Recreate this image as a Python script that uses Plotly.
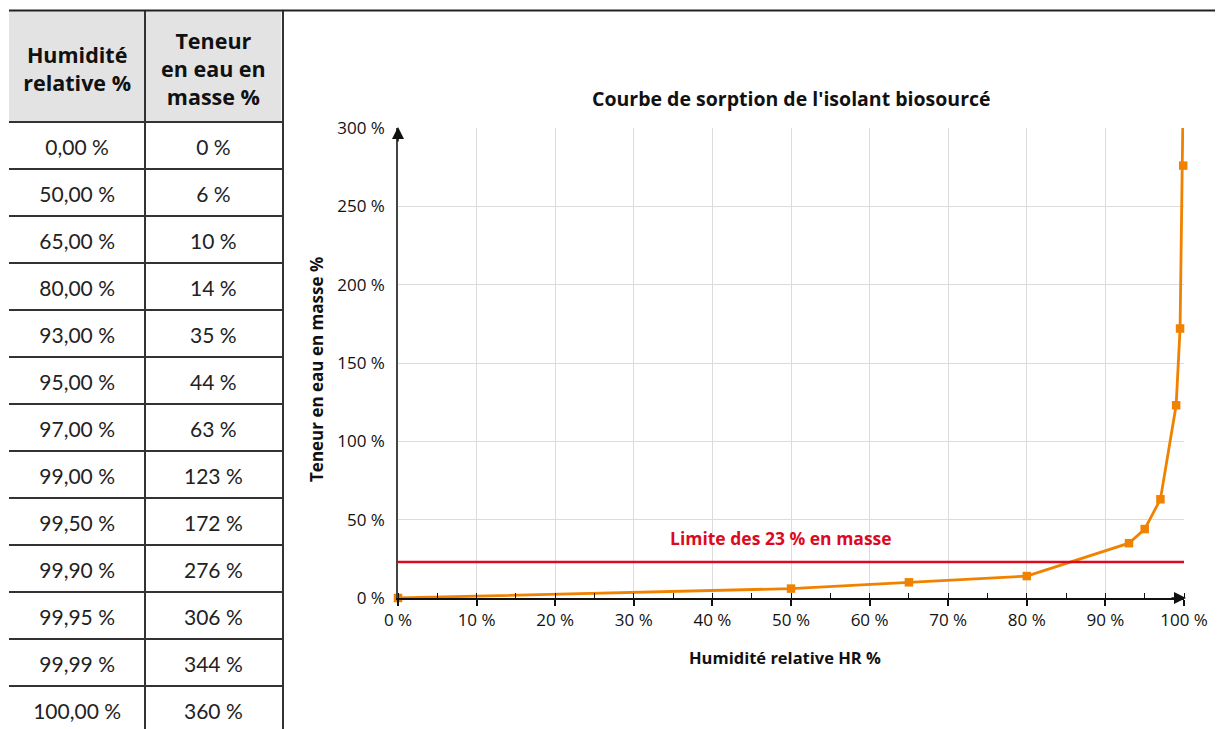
import plotly.graph_objects as go

hr_labels = ["0,00 %", "50,00 %", "65,00 %", "80,00 %", "93,00 %", "95,00 %", "97,00 %",
             "99,00 %", "99,50 %", "99,90 %", "99,95 %", "99,99 %", "100,00 %"]
teneur_labels = ["0 %", "6 %", "10 %", "14 %", "35 %", "44 %", "63 %",
                 "123 %", "172 %", "276 %", "306 %", "344 %", "360 %"]
header_labels = ["Humidité<br>relative %", "Teneur<br>en eau en<br>masse %"]
hr_values = [0, 50, 65, 80, 93, 95, 97, 99, 99.5, 99.9, 99.95, 99.99, 100]
teneur_values = [0, 6, 10, 14, 35, 44, 63, 123, 172, 276, 306, 344, 360]
limit_value = 23
x_ticks = list(range(0, 101, 10))
y_ticks = [0, 50, 100, 150, 200, 250, 300]
y_max = 300

# The page body has an 8px margin: size the figure to fit inside it
OFF = 8
W, H = 1223 - OFF, 729 - OFF
FONT = "Open Sans"
TFONT = "Lato"
ORANGE = "#f08200"
RED = "#dc0a1e"
BORDER = "#333333"

def px_x(p):
    return (p - OFF) / W

def px_y(p):
    return 1 - (p - OFF) / H

# table geometry (in table-axis units = pixels)
COL_W = 137
HEAD_H = 111
ROW_H = 47
T_LEFT, T_TOP = 9, 11
T_WIDTH = 2 * COL_W
T_HEIGHT = 729 - T_TOP

n_rows = len(hr_labels)
row_centers = [HEAD_H + ROW_H * i + ROW_H / 2 + 4 for i in range(n_rows)]
row_bounds = [HEAD_H + ROW_H * i for i in range(n_rows)]
col_centers = [COL_W / 2, COL_W * 1.5]

fig = go.Figure()

# ---- table (drawn on its own axes) ----
fig.add_trace(go.Scatter(
    x=[col_centers[0]] * n_rows + [col_centers[1]] * n_rows,
    y=row_centers + row_centers,
    text=hr_labels + teneur_labels,
    mode="text", textposition="middle center",
    textfont=dict(family=TFONT, size=21, color="#222222"),
    xaxis="x2", yaxis="y2", showlegend=False, hoverinfo="skip", cliponaxis=False,
))
fig.add_trace(go.Scatter(
    x=col_centers, y=[HEAD_H / 2 + 5, HEAD_H / 2 + 5],
    text=[f"<b>{t}</b>" for t in header_labels],
    mode="text", textposition="middle center",
    textfont=dict(family=FONT, size=21.5, color="#111111"),
    xaxis="x2", yaxis="y2", showlegend=False, hoverinfo="skip", cliponaxis=False,
))

# ---- chart ----
fig.add_trace(go.Scatter(
    x=hr_values, y=teneur_values,
    mode="lines",
    line=dict(color=ORANGE, width=2.8),
    showlegend=False, hoverinfo="skip",
))
vis = [(x, y) for x, y in zip(hr_values, teneur_values) if y <= y_max]
fig.add_trace(go.Scatter(
    x=[p[0] for p in vis], y=[p[1] for p in vis],
    mode="markers",
    marker=dict(symbol="square", size=8.5, color=ORANGE),
    cliponaxis=False,
    showlegend=False, hoverinfo="x+y",
))
fig.add_trace(go.Scatter(
    x=[0, 100], y=[limit_value, limit_value],
    mode="lines",
    line=dict(color=RED, width=2.5),
    showlegend=False, hoverinfo="skip",
))

x0, x1 = px_x(398), px_x(1184)
y0, y1 = px_y(598), px_y(128)

fig.update_layout(
    width=W, height=H,
    margin=dict(l=0, r=0, t=0, b=0, pad=0, autoexpand=False),
    paper_bgcolor="white", plot_bgcolor="white",
    font=dict(family=FONT, size=16, color="#111111"),
    showlegend=False,
    xaxis=dict(
        domain=[x0, x1], range=[0, 100],
        tickvals=x_ticks, ticktext=[f"{v} %" for v in x_ticks],
        showgrid=True, gridcolor="#dcdcdc", gridwidth=1,
        showline=True, linecolor="#111111", linewidth=1.5,
        ticks="outside", ticklen=6, tickwidth=1.5, tickcolor="#111111",
        minor=dict(dtick=5, ticks="inside", ticklen=5, tickwidth=1, tickcolor="#111111", showgrid=False),
        zeroline=False, automargin=False,
        tickfont=dict(family=FONT, size=17, color="#111111"),
        fixedrange=True,
    ),
    yaxis=dict(
        domain=[y0, y1], range=[0, y_max],
        tickvals=y_ticks, ticktext=[f"{v} %" for v in y_ticks],
        showgrid=True, gridcolor="#dcdcdc", gridwidth=1,
        showline=True, linecolor="#444444", linewidth=1.5,
        ticks="", zeroline=False, automargin=False,
        ticklabelstandoff=8,
        tickfont=dict(family=FONT, size=17, color="#111111"),
        fixedrange=True,
    ),
    xaxis2=dict(
        domain=[px_x(T_LEFT), px_x(T_LEFT + T_WIDTH - 1.5)], range=[0, T_WIDTH], anchor="y2",
        tickvals=[COL_W], showticklabels=False, ticks="",
        showgrid=True, gridcolor=BORDER, gridwidth=1.5,
        showline=False, zeroline=False, fixedrange=True, automargin=False,
    ),
    yaxis2=dict(
        domain=[0, px_y(T_TOP)], range=[T_HEIGHT, 0], anchor="x2", side="right",
        tickvals=row_bounds, showticklabels=False, ticks="",
        showgrid=True, gridcolor=BORDER, gridwidth=1.5,
        showline=True, linecolor=BORDER, linewidth=1.5,
        zeroline=False, fixedrange=True, automargin=False,
    ),
    shapes=[
        dict(type="rect", xref="x2", yref="y2", x0=0, x1=T_WIDTH, y0=0, y1=HEAD_H,
             fillcolor="#e3e3e3", line=dict(width=0), layer="below"),
        dict(type="line", xref="paper", yref="paper", x0=px_x(9), x1=1, y0=px_y(10.5), y1=px_y(10.5),
             line=dict(color="#222222", width=2)),
    ],
    annotations=[
        dict(text="<b>Courbe de sorption de l'isolant biosourcé</b>", xref="paper", yref="paper",
             x=px_x(791), y=px_y(99), showarrow=False, font=dict(family=FONT, size=19.5, color="#111111"),
             xanchor="center", yanchor="middle"),
        dict(text="<b>Humidité relative HR %</b>", xref="paper", yref="paper",
             x=px_x(785), y=px_y(657), showarrow=False, font=dict(family=FONT, size=16.5, color="#111111"),
             xanchor="center", yanchor="middle"),
        dict(text="<b>Teneur en eau en masse %</b>", xref="paper", yref="paper",
             x=px_x(316), y=px_y(370), showarrow=False, textangle=-90,
             font=dict(family=FONT, size=17, color="#111111"),
             xanchor="center", yanchor="middle"),
        dict(text="<b>Limite des 23 % en masse</b>", xref="x", yref="y", x=48.7, y=limit_value,
             yshift=24, showarrow=False, font=dict(family=FONT, size=17.5, color=RED),
             xanchor="center", yanchor="middle"),
        dict(xref="paper", yref="paper", x=px_x(1186), y=y0, ax=-16, ay=0, showarrow=True,
             arrowhead=2, arrowsize=1.6, arrowwidth=1.5, arrowcolor="#111111", text=""),
        dict(xref="paper", yref="paper", x=x0, y=px_y(127), ax=0, ay=16, showarrow=True,
             arrowhead=2, arrowsize=1.6, arrowwidth=1.5, arrowcolor="#111111", text=""),
    ],
)

fig.write_html("out.html")
